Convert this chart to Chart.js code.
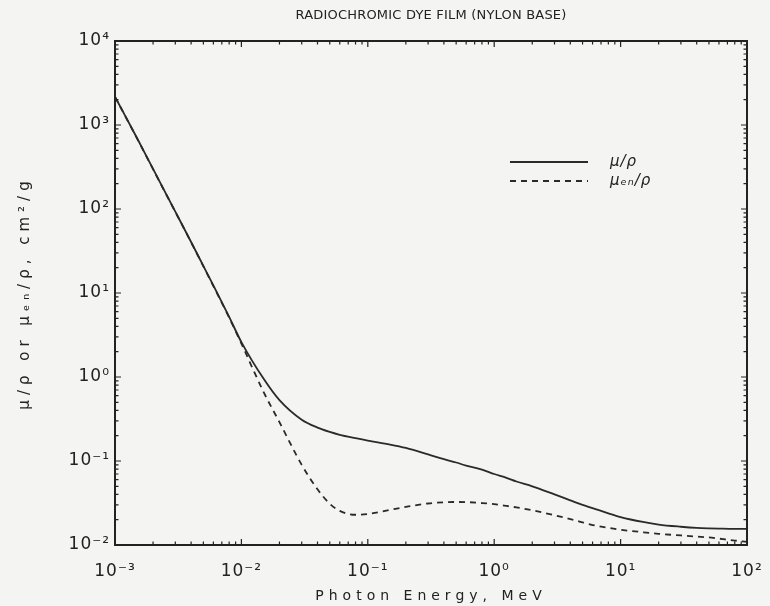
<!DOCTYPE html>
<html>
<head>
<meta charset="utf-8">
<script src="https://cdn.jsdelivr.net/npm/chart.js@4.4.0/dist/chart.umd.min.js"></script>
<style>
  html, body { margin: 0; padding: 0; background: #f4f4f2; }
  #wrap { width: 770px; height: 606px; position: relative; }
</style>
</head>
<body>
<div id="wrap"><canvas id="attenChart"></canvas></div>
<script>
// photon energy, MeV
const energy = [0.001, 0.0015, 0.002, 0.003, 0.004, 0.005, 0.006, 0.008, 0.01, 0.015,
  0.02, 0.03, 0.04, 0.05, 0.06, 0.08, 0.1, 0.15, 0.2, 0.3,
  0.4, 0.5, 0.6, 0.8, 1, 1.25, 1.5, 2, 3, 4,
  5, 6, 8, 10, 15, 20, 30, 40, 50, 60, 80, 100];

// mu/rho, cm2/g
const muRho = [2170, 690, 300, 93, 40.5, 21, 12.3, 5.2, 2.6, 0.95,
  0.53, 0.31, 0.25, 0.222, 0.205, 0.187, 0.175, 0.157, 0.143, 0.120,
  0.105, 0.096, 0.088, 0.079, 0.070, 0.063, 0.057, 0.050, 0.040, 0.034,
  0.030, 0.0275, 0.0238, 0.0215, 0.0188, 0.0175, 0.0165, 0.0160, 0.0158, 0.0157, 0.0156, 0.0156];

// mu_en/rho, cm2/g
const muEnRho = [2165, 685, 298, 92.5, 40.2, 20.8, 12.1, 5.1, 2.5, 0.66,
  0.29, 0.090, 0.046, 0.031, 0.0255, 0.0229, 0.0234, 0.0262, 0.0284, 0.0312,
  0.0322, 0.0325, 0.0324, 0.0316, 0.0306, 0.0292, 0.0280, 0.0259, 0.0226, 0.0203,
  0.0186, 0.0173, 0.0160, 0.0152, 0.0142, 0.0136, 0.0130, 0.0126, 0.0123, 0.0119, 0.0113, 0.0109];

const seriesNames = ['μ/ρ', 'μₑₙ/ρ'];

// decades shown on each axis
const xDecades = [-3, -2, -1, 0, 1, 2];
const yDecades = [-2, -1, 0, 1, 2, 3, 4];

const SUP = {'-': '⁻', '0': '⁰', '1': '¹', '2': '²', '3': '³', '4': '⁴', '5': '⁵', '6': '⁶', '7': '⁷', '8': '⁸', '9': '⁹'};
function powLabel(v) {
  const e = Math.round(Math.log10(v));
  if (Math.abs(v - Math.pow(10, e)) / v > 1e-6) return '';
  return '10' + String(e).split('').map(c => SUP[c]).join('');
}

// 1..9 x 10^n ticks, majors at the powers of ten
function logTicks(decades) {
  const out = [];
  decades.forEach((d, i) => {
    const base = Math.pow(10, d);
    out.push({value: base, major: true});
    if (i < decades.length - 1) {
      for (let m = 2; m <= 9; m++) out.push({value: m * base, major: false});
    }
  });
  return out;
}

function toPoints(xs, ys) {
  return xs.map((x, i) => ({x: x, y: ys[i]}));
}

// wrap a draw method: extra letter spacing (plotter look) and an optional shift
function spaced(obj, method, spacing, shift) {
  if (!obj || obj['_sp_' + method]) return;
  const orig = obj[method];
  obj[method] = function () {
    const ctx = this.ctx;
    const prev = ctx.letterSpacing;
    ctx.save();
    if (shift) ctx.translate(shift(), 0);
    ctx.letterSpacing = spacing;
    const r = orig.apply(this, arguments);
    ctx.restore();
    ctx.letterSpacing = prev;
    return r;
  };
  obj['_sp_' + method] = true;
}

const spacingPlugin = {
  id: 'spacing',
  beforeDraw(chart) {
    const tb = chart.titleBlock;
    // centre the title over the plot box rather than the whole canvas
    spaced(tb, 'draw', '0.2px', () => (chart.chartArea.left + chart.chartArea.right) / 2 - (tb.left + tb.right) / 2);
    spaced(chart.scales.x, 'drawTitle', '5px');
    spaced(chart.scales.y, 'drawTitle', '5px');
    spaced(chart.scales.x, 'drawLabels', '1px');
    spaced(chart.scales.y, 'drawLabels', '1px');
  }
};

// box round the plot with inward ticks on all four sides
const frameTicks = {
  id: 'frameTicks',
  afterDraw(chart) {
    const {ctx, chartArea: a, scales: {x, y}} = chart;
    ctx.save();
    ctx.strokeStyle = '#222';
    ctx.lineWidth = 1.2;
    ctx.beginPath();
    x.ticks.forEach(t => {
      const px = x.getPixelForValue(t.value);
      const len = t.major ? 6 : 3.5;
      ctx.moveTo(px, a.bottom); ctx.lineTo(px, a.bottom - len);
      ctx.moveTo(px, a.top); ctx.lineTo(px, a.top + len);
    });
    y.ticks.forEach(t => {
      const py = y.getPixelForValue(t.value);
      const len = t.major ? 6 : 3.5;
      ctx.moveTo(a.left, py); ctx.lineTo(a.left + len, py);
      ctx.moveTo(a.right, py); ctx.lineTo(a.right - len, py);
    });
    ctx.stroke();
    ctx.lineWidth = 2;
    ctx.strokeRect(a.left, a.top, a.right - a.left, a.bottom - a.top);
    ctx.restore();
  }
};

// legend written inside the plot, line sample then name
const inlineLegend = {
  id: 'inlineLegend',
  afterDatasetsDraw(chart, args, opts) {
    const ctx = chart.ctx;
    chart.data.datasets.forEach((ds, i) => {
      const yy = opts.y + i * opts.rowGap;
      ctx.save();
      ctx.strokeStyle = ds.borderColor;
      ctx.lineWidth = ds.borderWidth;
      ctx.setLineDash(ds.borderDash || []);
      ctx.beginPath();
      ctx.moveTo(opts.x, yy);
      ctx.lineTo(opts.x + opts.lineLength, yy);
      ctx.stroke();
      ctx.setLineDash([]);
      ctx.fillStyle = '#222';
      ctx.font = opts.font;
      ctx.textBaseline = 'middle';
      ctx.letterSpacing = '1px';
      ctx.fillText(ds.label, opts.x + opts.lineLength + opts.textGap, yy);
      ctx.restore();
    });
  }
};

const ctx = document.getElementById('attenChart').getContext('2d');

const attenChart = new Chart(ctx, {
  type: 'scatter',
  data: {
    datasets: [{
      label: seriesNames[0],
      data: toPoints(energy, muRho),
      showLine: true,
      borderColor: '#2a2a2a',
      borderWidth: 1.8,
      pointRadius: 0,
      cubicInterpolationMode: 'monotone'
    }, {
      label: seriesNames[1],
      data: toPoints(energy, muEnRho),
      showLine: true,
      borderColor: '#2a2a2a',
      borderWidth: 1.8,
      borderDash: [6, 5],
      pointRadius: 0,
      cubicInterpolationMode: 'monotone'
    }]
  },
  options: {
    responsive: true,
    maintainAspectRatio: false,
    animation: false,
    layout: { padding: { left: 0, right: 23, top: 0, bottom: 0 } },
    plugins: {
      legend: { display: false },
      tooltip: { enabled: false },
      title: {
        display: true,
        text: 'RADIOCHROMIC DYE FILM (NYLON BASE)',
        color: '#222',
        font: { family: 'DejaVu Sans', size: 13, weight: 'normal' },
        padding: { top: 8, bottom: 17.4 }
      },
      inlineLegend: {
        x: 510, y: 162, rowGap: 19, lineLength: 78, textGap: 22,
        font: 'italic 15px "DejaVu Sans"'
      }
    },
    scales: {
      x: {
        type: 'logarithmic',
        min: 0.001,
        max: 100,
        afterBuildTicks: s => { s.ticks = logTicks(xDecades); },
        afterFit: s => { s.height = 61; s.paddingLeft = 0; s.paddingRight = 0; },
        grid: { display: false, drawTicks: false },
        border: { display: false },
        ticks: {
          autoSkip: false, maxRotation: 0, padding: 16, color: '#222',
          font: { family: 'DejaVu Sans', size: 17 },
          callback: v => powLabel(v)
        },
        title: {
          display: true, text: 'Photon Energy, MeV', color: '#222',
          font: { family: 'DejaVu Sans', size: 14 },
          padding: { top: 0, bottom: 1 }
        }
      },
      y: {
        type: 'logarithmic',
        min: 0.01,
        max: 10000,
        afterBuildTicks: s => { s.ticks = logTicks(yDecades); },
        afterFit: s => { s.width = 115; },
        grid: { display: false, drawTicks: false },
        border: { display: false },
        ticks: {
          autoSkip: false, padding: 5, color: '#222',
          font: { family: 'DejaVu Sans', size: 17 },
          callback: v => powLabel(v)
        },
        title: {
          display: true, text: 'μ/ρ or μₑₙ/ρ, cm²/g', color: '#222',
          font: { family: 'DejaVu Sans', size: 15 },
          padding: { top: 16, bottom: 0 }
        }
      }
    }
  },
  plugins: [spacingPlugin, frameTicks, inlineLegend]
});
</script>
</body>
</html>
